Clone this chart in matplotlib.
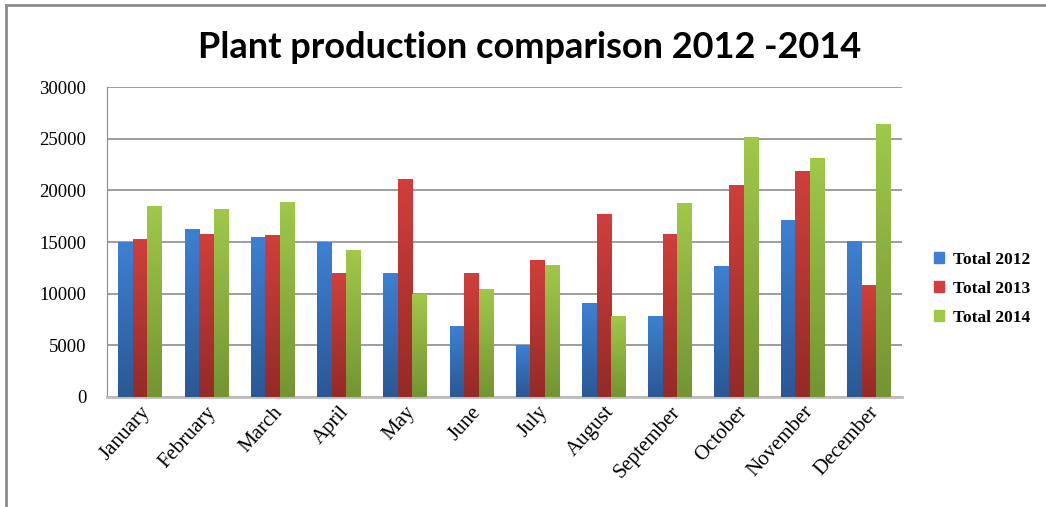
import numpy as np
import matplotlib
matplotlib.use('Agg')
import matplotlib.pyplot as plt
from matplotlib.colors import LinearSegmentedColormap
from matplotlib.lines import Line2D
from matplotlib.patches import Rectangle

# data
months = ['January', 'February', 'March', 'April', 'May', 'June', 'July',
          'August', 'September', 'October', 'November', 'December']
total_2012 = [15000, 16300, 15500, 15000, 12000, 6900, 5000, 9100, 7800, 12700, 17100, 15100]
total_2013 = [15300, 15800, 15700, 12000, 21100, 12000, 13300, 17700, 15800, 20500, 21900, 10800]
total_2014 = [18500, 18200, 18900, 14200, 10000, 10500, 12800, 7800, 18800, 25200, 23100, 26400]
series_names = ['Total 2012', 'Total 2013', 'Total 2014']

# (top colour, bottom colour) for the gradient fill
grads = [('#3d80d3', '#2a5895'),
         ('#d03f3b', '#952a27'),
         ('#a0c84a', '#739532')]

fig = plt.figure(figsize=(10.46, 5.07), dpi=100)
ax = fig.add_axes([0.1023, 0.217, 0.760, 0.611])

x = np.arange(len(months))
w = 0.22
series = [total_2012, total_2013, total_2014]

for i, (vals, (ctop, cbot)) in enumerate(zip(series, grads)):
    bars = ax.bar(x + (i - 1) * w, vals, w, color=ctop, zorder=2)
    cmap = LinearSegmentedColormap.from_list('g%d' % i, [cbot, ctop])
    grad = np.linspace(0, 1, 100).reshape(-1, 1)
    for b in bars:
        bx, by = b.get_x(), b.get_y()
        bw, bh = b.get_width(), b.get_height()
        im = ax.imshow(grad, cmap=cmap, aspect='auto', origin='lower',
                       extent=(bx, bx + bw, by, by + bh), zorder=3)
        im.set_clip_path(b)

ax.set_xlim(-0.5, len(months) - 0.5)
ax.set_ylim(0, 30000)
ax.set_yticks(range(0, 30001, 5000))
ax.yaxis.grid(True, color='#8c8c8c', linewidth=1.2, zorder=0)
ax.set_axisbelow(True)

for s in ['top', 'right']:
    ax.spines[s].set_visible(False)
ax.spines['left'].set_color('#8c8c8c')
ax.spines['bottom'].set_color('#bdbdbd')
ax.spines['bottom'].set_linewidth(2)

ax.tick_params(axis='y', length=0, pad=15, labelsize=13.5)
ax.tick_params(axis='x', length=0, pad=4, labelsize=15)
ax.set_xticks(x)
ax.set_xticklabels(months, rotation=48, ha='right', rotation_mode='anchor')
for lbl in ax.get_xticklabels() + ax.get_yticklabels():
    lbl.set_fontfamily('Liberation Serif')

fig.text(0.506, 0.907, 'Plant production comparison 2012 -2014',
         ha='center', va='center', fontsize=26, fontweight='bold',
         family='Lato')

handles = [Rectangle((0, 0), 1, 1, color=c[0]) for c in grads]
fig.legend(handles, series_names, loc='center left',
           bbox_to_anchor=(0.878, 0.43), frameon=False,
           prop={'family': 'Liberation Serif', 'weight': 'bold', 'size': 12.5},
           handlelength=0.6, handleheight=0.6, handletextpad=0.5,
           labelspacing=0.75)

# frame around the chart area (top and left edges)
fig.add_artist(Line2D([0.006, 1.0], [0.99, 0.99], color='#8c8c8c', lw=2,
                      transform=fig.transFigure))
fig.add_artist(Line2D([0.006, 0.006], [0.0, 0.99], color='#8c8c8c', lw=2,
                      transform=fig.transFigure))

fig.savefig('out.png', dpi=100)
